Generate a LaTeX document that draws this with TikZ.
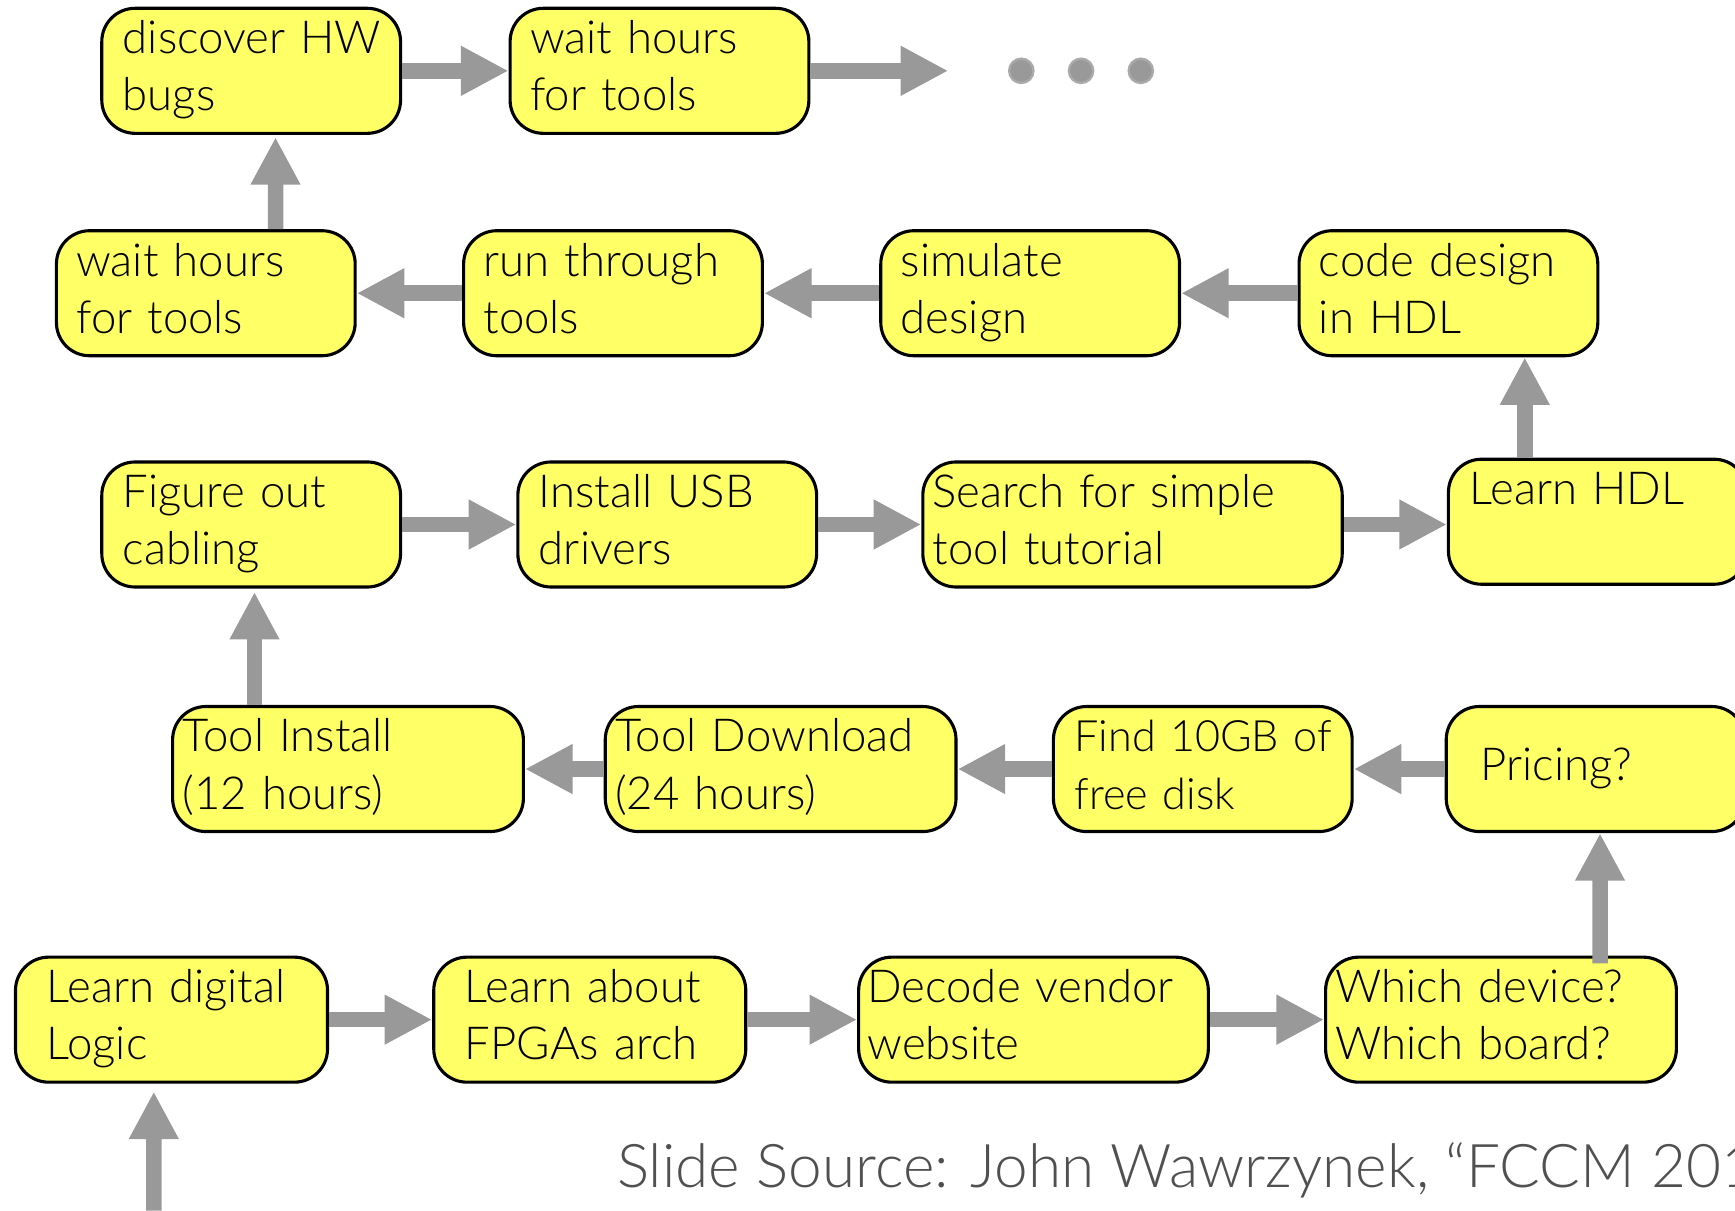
\documentclass[tikz,border=0pt]{standalone}
\usepackage{fontspec}
\setmainfont{Lato}[UprightFont=* Light]
\usepackage{tikz}
\usetikzlibrary{arrows.meta,positioning,calc}
\definecolor{flow@yellow}{RGB}{255,255,102}
\definecolor{flow@gray}{RGB}{153,153,153}
\definecolor{flow@dot}{RGB}{170,170,170}
\definecolor{flow@source}{RGB}{80,80,80}
\tikzset{
  flowchart/.style={
    line width=0.5pt,
    every node/.style={font=\fontsize{11.7}{14.7}\selectfont}
  },
  stepbox/.style={                 % yellow step of the design flow
    draw=black, line width=0.8pt,
    rounded corners=0.3cm,
    fill=flow@yellow,
    inner xsep=0.18cm, inner ysep=0pt,
    text width=2.34cm,
    minimum height=1.13cm,
    align=left,
    execute at begin node=\strut,
    execute at end node=\strut
  },
  flowarrow/.style={-{Triangle[length=4.3mm,width=4.2mm]}, line width=1.4mm, draw=flow@gray},
  moredot/.style={circle, fill=flow@gray, draw=flow@dot, line width=0.6pt,
    inner sep=0pt, minimum size=0.22cm},
  source/.style={font=\fontsize{15.5}{19}\selectfont, text=flow@source,
    anchor=base west, inner sep=0pt}
}

\begin{document}
\begin{tikzpicture}[flowchart]
\useasboundingbox (0,0) rectangle (15.68,-10.94);
\clip (0,0) rectangle (15.68,-10.94);

% Row 1: bugs and waiting again
\node[stepbox, inner xsep=0.19cm, text width=2.32cm] (disc) at (2.27,-0.64) {discover~HW\\bugs};
\node[stepbox] (waitA) at (5.96,-0.64) {wait~hours\\for tools};
\coordinate (more) at (8.57,-0.64);
\foreach \x [count=\i] in {9.23,9.77,10.31}
  \node[moredot] (dot\i) at (\x,-0.64) {};

% Row 2: design loop (right to left)
\node[stepbox] (waitB) at (1.86,-2.65) {wait~hours\\for tools};
\node[stepbox] (run) at (5.54,-2.65) {run~through\\tools};
\node[stepbox] (sim) at (9.31,-2.65) {simulate\\design};
\node[stepbox] (code) at (13.09,-2.65) {code~design\\in HDL};

% Row 3: getting the board talking
\node[stepbox, inner xsep=0.19cm, text width=2.32cm] (fig) at (2.27,-4.74) {Figure~out\\cabling};
\node[stepbox, inner xsep=0.19cm, text width=2.32cm] (usb) at (6.03,-4.74) {Install~USB\\drivers};
\node[stepbox, inner xsep=0.09cm, text width=3.61cm] (search) at (10.235,-4.74) {Search for simple\\tool tutorial};
\node[stepbox, inner xsep=0.19cm, text width=2.32cm] (hdl) at (14.44,-4.715) {Learn HDL\\};

% Row 4: tools (right to left)
\node[stepbox, inner xsep=0.09cm, text width=2.99cm] (inst) at (3.145,-6.95) {Tool Install\\(12 hours)};
\node[stepbox, inner xsep=0.09cm, text width=2.99cm] (dl) at (7.055,-6.95) {Tool~Download\\(24 hours)};
\node[stepbox, inner xsep=0.19cm, text width=2.32cm, font=\fontsize{11.1}{14.7}\selectfont] (find) at (10.87,-6.95) {Find~10GB~of\\free disk};
\node[stepbox, inner xsep=0.31cm, text width=2.08cm] (price) at (14.42,-6.95) {Pricing?};

% Row 5: where it starts
\node[stepbox, inner xsep=0.28cm, text width=2.26cm] (ldl) at (1.55,-9.215) {Learn~digital\\Logic};
\node[stepbox, inner xsep=0.28cm, text width=2.26cm] (fpga) at (5.33,-9.215) {Learn~about\\FPGAs~arch};
\node[stepbox, inner xsep=0.08cm, text width=3.00cm] (dec) at (9.34,-9.215) {Decode~vendor\\website};
\node[stepbox, inner xsep=0.09cm, text width=2.99cm] (which) at (13.565,-9.215) {Which~device?\\Which~board?};
\coordinate (entry) at (1.39,-10.94);

% Source line
\node[source] (src) at (5.57,-10.73) {Slide Source: John Wawrzynek, “FCCM 201};

% Connectors
\draw[flowarrow] (entry) -- ([xshift=-0.16cm,yshift=-0.07cm]ldl.south);
\draw[flowarrow] (ldl.east) -- (fpga.west);
\draw[flowarrow] (fpga.east) -- (dec.west);
\draw[flowarrow] (dec.east) -- (which.west);
\draw[flowarrow] ([xshift=0.895cm,yshift=-0.07cm]which.north) -- ([xshift=0.04cm]price.south);
\draw[flowarrow] (price.west) -- (find.east);
\draw[flowarrow] (find.west) -- (dl.east);
\draw[flowarrow] (dl.west) -- (inst.east);
\draw[flowarrow] ([xshift=-0.845cm]inst.north) -- ([xshift=0.03cm,yshift=-0.03cm]fig.south);
\draw[flowarrow] (fig.east) -- (usb.west);
\draw[flowarrow] (usb.east) -- (search.west);
\draw[flowarrow] (search.east) -- (search.east -| hdl.west);
\draw[flowarrow] ([xshift=-0.66cm]hdl.north) -- ([xshift=0.69cm]code.south);
\draw[flowarrow] (code.west) -- (sim.east);
\draw[flowarrow] (sim.west) -- (run.east);
\draw[flowarrow] (run.west) -- (waitB.east);
\draw[flowarrow] ([xshift=0.63cm]waitB.north) -- ([xshift=0.22cm,yshift=-0.02cm]disc.south);
\draw[flowarrow] (disc.east) -- (waitA.west);
\draw[flowarrow] (waitA.east) -- (more);
\end{tikzpicture}
\end{document}
